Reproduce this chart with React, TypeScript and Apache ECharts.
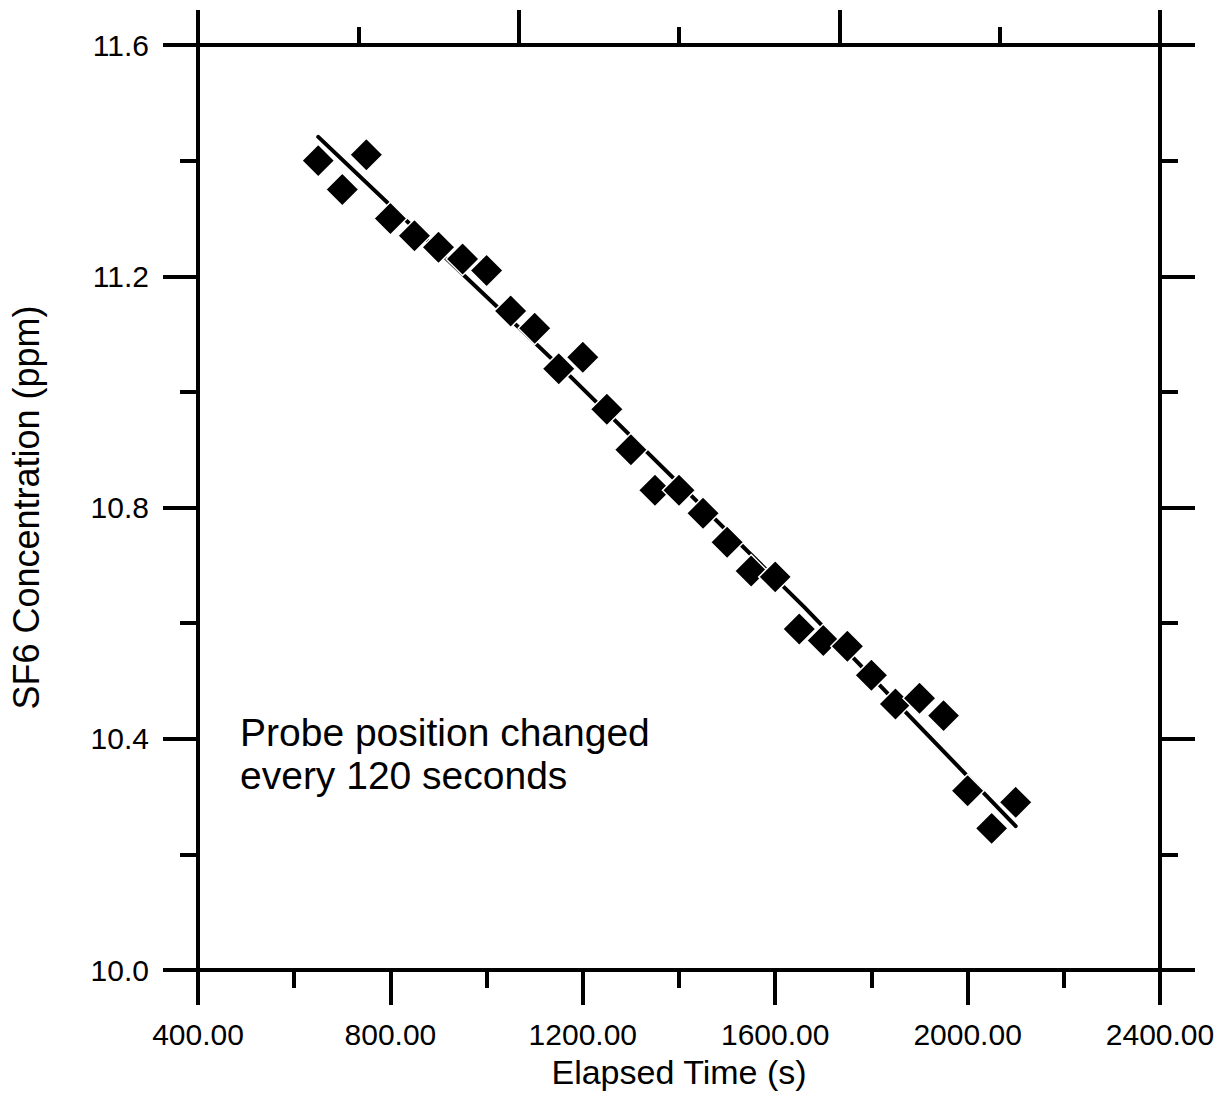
import React, { useEffect, useRef } from "react";
import * as echarts from "echarts";

const timeSeconds = [
  650, 700, 750, 800, 850, 900, 950, 1000, 1050, 1100, 1150, 1200, 1250, 1300, 1350,
  1400, 1450, 1500, 1550, 1600, 1650, 1700, 1750, 1800, 1850, 1900, 1950, 2000, 2050, 2100,
];
const concentration = [
  11.4, 11.35, 11.41, 11.3, 11.27, 11.25, 11.23, 11.21, 11.14, 11.11, 11.04, 11.06, 10.97,
  10.9, 10.83, 10.83, 10.79, 10.74, 10.69, 10.68, 10.59, 10.57, 10.56, 10.51, 10.46, 10.47,
  10.44, 10.31, 10.245, 10.29,
];
const fitTime = [650, 1175, 1660, 2100];
const fitConcentration = [11.441, 11.026, 10.628, 10.249];

const xAxisTitle = "Elapsed Time (s)";
const yAxisTitle = "SF6 Concentration (ppm)";
const annotationLines = ["Probe position changed", "every 120 seconds"];

const FONT = "'Liberation Sans', Arial, Helvetica, sans-serif";

export default function App() {
  const ref = useRef<HTMLDivElement>(null);

  useEffect(() => {
    document.body.style.margin = "0";
    if (!ref.current) return;
    const chart = echarts.init(ref.current, undefined, { renderer: "svg" });

    const axisLine = { show: true, lineStyle: { color: "#000", width: 4 } };
    const tick = (show: boolean) => ({
      show,
      inside: false,
      length: 35,
      lineStyle: { color: "#000", width: 4 },
    });
    const minor = {
      show: true,
      splitNumber: 2,
      length: 18,
      lineStyle: { color: "#000", width: 4 },
    };

    chart.setOption({
      animation: false,
      backgroundColor: "#fff",
      grid: { left: 197, right: 66, top: 45, bottom: 124, containLabel: false },
      xAxis: [
        {
          type: "value",
          position: "bottom",
          min: 400,
          max: 2400,
          interval: 400,
          axisLine,
          axisTick: tick(true),
          minorTick: minor,
          splitLine: { show: false },
          minorSplitLine: { show: false },
          axisLabel: {
            show: true,
            margin: 49,
            color: "#000",
            fontSize: 30,
            fontFamily: FONT,
            formatter: (v: number) => v.toFixed(2),
          },
          name: xAxisTitle,
          nameLocation: "middle",
          nameGap: 85,
          nameTextStyle: { color: "#000", fontSize: 34, fontFamily: FONT },
        },
        {
          type: "value",
          position: "top",
          min: 0,
          max: 6,
          interval: 2,
          axisLine,
          axisTick: tick(true),
          minorTick: minor,
          splitLine: { show: false },
          minorSplitLine: { show: false },
          axisLabel: { show: false },
        },
      ],
      yAxis: [
        {
          type: "value",
          position: "left",
          min: 10,
          max: 11.6,
          interval: 0.4,
          axisLine,
          axisTick: tick(true),
          minorTick: minor,
          splitLine: { show: false },
          minorSplitLine: { show: false },
          axisLabel: {
            show: true,
            margin: 49,
            color: "#000",
            fontSize: 30,
            fontFamily: FONT,
            formatter: (v: number) => v.toFixed(1),
          },
          name: yAxisTitle,
          nameLocation: "middle",
          nameGap: 154,
          nameTextStyle: { color: "#000", fontSize: 36, fontFamily: FONT },
        },
        {
          type: "value",
          position: "right",
          min: 10,
          max: 11.6,
          interval: 0.4,
          axisLine,
          axisTick: tick(true),
          minorTick: minor,
          splitLine: { show: false },
          minorSplitLine: { show: false },
          axisLabel: { show: false },
        },
      ],
      series: [
        {
          type: "line",
          xAxisIndex: 0,
          yAxisIndex: 0,
          data: fitTime.map((t, i) => [t, fitConcentration[i]]),
          showSymbol: false,
          lineStyle: { color: "#000", width: 4, cap: "round" },
          z: 2,
        },
        {
          type: "scatter",
          xAxisIndex: 0,
          yAxisIndex: 0,
          data: timeSeconds.map((t, i) => [t, concentration[i]]),
          symbol: "diamond",
          symbolSize: 33,
          itemStyle: { color: "#000", opacity: 1, borderColor: "#fff", borderWidth: 1.5 },
          z: 3,
        },
      ],
      graphic: [
        {
          type: "text",
          left: 240,
          top: 711,
          style: {
            text: annotationLines.join("\n"),
            fill: "#000",
            fontSize: 39,
            lineHeight: 43,
            fontFamily: FONT,
          },
        },
      ],
    });

    return () => chart.dispose();
  }, []);

  return <div ref={ref} style={{ width: 1226, height: 1094 }} />;
}
